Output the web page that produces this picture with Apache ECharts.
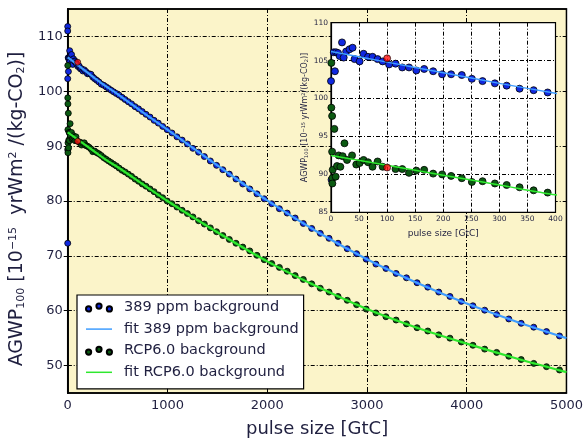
<!DOCTYPE html>
<html>
<head>
<meta charset="utf-8">
<script src="https://cdn.jsdelivr.net/npm/echarts@6/dist/echarts.min.js"></script>
<style>
  html, body { margin: 0; padding: 0; background: #fff; }
  #chart { width: 586px; height: 443px; }
</style>
</head>
<body>
<div id="chart"></div>
<script>
// points below 400 GtC (also shown in the inset)
var bluePulseLow = [0, 0, 0, 1, 0, 7, 5, 9, 12.5, 15.5, 19.6, 22.6, 27, 33, 38.5, 42, 51, 58, 66, 74, 83, 92,
    103.5, 115, 127, 139, 152, 166, 182, 198, 214, 233, 251, 270, 292, 313, 336, 361, 386];
var blueLow = [111.8, 111.0, 72.3, 89.3, 102.3, 103.6, 106.1, 106.1, 106.0, 105.6, 107.4, 105.4, 106.2, 106.5, 106.7, 105.2, 104.9, 105.9, 105.5, 105.5, 105.2, 104.9,
    104.5, 104.6, 104.1, 104.1, 103.7, 103.9, 103.6, 103.2, 103.2, 103.1, 102.6, 102.3, 102.0, 101.7, 101.3, 101.1, 100.8];
var greenPulseLow = [0.6, 0.6, 2, 6, 2, 24, 3, 2.4, 2.4, 8.3, 10.7, 16.7, 13.7, 20.8, 28.6, 37.5, 45, 51, 58, 66, 74, 83, 92,
    115, 127, 139, 152, 166, 182, 198, 214, 233, 251, 270, 292, 313, 336, 361, 386];
var greenLow = [104.7, 98.8, 97.7, 96.0, 93.0, 94.1, 90.6, 89.5, 88.8, 89.7, 91.1, 91.0, 92.5, 92.4, 91.9, 92.5, 91.3, 91.5, 91.9, 91.6, 91.0, 91.7, 91.0,
    90.7, 90.7, 90.2, 90.5, 90.6, 90.1, 90.0, 89.8, 89.5, 89.0, 89.1, 88.8, 88.6, 88.3, 87.9, 87.6];

// points above 400 GtC
var pulseHigh = [410, 435, 460, 487, 515, 545, 575, 607, 640, 675, 710, 747, 785, 825, 866, 908, 952, 997,
    1045, 1095, 1147, 1200, 1255, 1312, 1370, 1430, 1492, 1555, 1620, 1687, 1755, 1825, 1897, 1970,
    2045, 2122, 2200, 2280, 2362, 2446, 2532, 2620, 2710, 2802, 2896, 2992, 3090, 3190, 3292, 3396,
    3502, 3610, 3720, 3832, 3946, 4062, 4180, 4300, 4422, 4546, 4672, 4800, 4930];
var blueHigh = [100.5, 100.2, 99.9, 99.6, 99.3, 98.9, 98.5, 98.1, 97.7, 97.2, 96.8, 96.3, 95.8, 95.3, 94.7, 94.2, 93.6, 93.0,
    92.4, 91.7, 91.1, 90.4, 89.6, 88.9, 88.1, 87.3, 86.5, 85.7, 84.9, 84.0, 83.1, 82.2, 81.3, 80.4,
    79.5, 78.6, 77.8, 76.9, 75.9, 75.0, 74.1, 73.2, 72.3, 71.3, 70.4, 69.4, 68.5, 67.7, 66.8, 66.0,
    65.1, 64.3, 63.4, 62.6, 61.7, 60.9, 60.1, 59.3, 58.5, 57.7, 57.0, 56.2, 55.4];
var greenHigh = [87.3, 87.0, 86.7, 86.4, 86.0, 85.6, 85.3, 84.9, 84.5, 84.0, 83.6, 83.1, 82.7, 82.2, 81.7, 81.1, 80.6, 80.0,
    79.5, 78.9, 78.3, 77.7, 77.1, 76.4, 75.8, 75.1, 74.4, 73.7, 73.0, 72.3, 71.6, 70.9, 70.1, 69.3,
    68.6, 67.9, 67.2, 66.4, 65.7, 64.9, 64.1, 63.4, 62.6, 61.9, 61.1, 60.3, 59.6, 58.9, 58.3, 57.6,
    56.9, 56.3, 55.6, 55.0, 54.3, 53.7, 53.0, 52.4, 51.7, 51.1, 50.4, 49.8, 49.2];

// reference pulse (red markers)
var redPulse = [100, 100];
var redValue = [105.3, 90.9];

// fitted curves
var fitPulse = [0, 100, 200, 300, 400, 500, 750, 1000, 1500, 2000, 2500, 3000, 3500, 4000, 4500, 5000];
var fitBlue = [106.2, 104.8, 103.4, 102.0, 100.7, 99.5, 96.2, 93.0, 86.5, 80.1, 74.4, 69.4, 65.1, 61.3, 58.0, 55.0];
var fitGreen = [92.5, 91.2, 89.9, 88.6, 87.3, 86.2, 83.1, 80.0, 74.3, 69.0, 64.4, 60.3, 56.9, 54.0, 51.3, 48.8];

var mainYTicks = [50, 60, 70, 80, 90, 100, 110];

var legendNames = ['389 ppm background', 'fit 389 ppm background', 'RCP6.0 background', 'fit RCP6.0 background'];

function pairs(xs, ys) {
    return xs.map(function (x, i) { return [x, ys[i]]; });
}

var blueData = pairs(bluePulseLow, blueLow).concat(pairs(pulseHigh, blueHigh));
var greenData = pairs(greenPulseLow, greenLow).concat(pairs(pulseHigh, greenHigh));
var redData = pairs(redPulse, redValue);
var blueFit = pairs(fitPulse, fitBlue);
var greenFit = pairs(fitPulse, fitGreen);

var textColor = '#1f1f3f';
var dashDot = [4, 2, 1, 2];
var dotsIcon = 'path://M0,5.4a2.6,2.6 0 1,0 5.2,0a2.6,2.6 0 1,0 -5.2,0Z' +
    'M10.4,2.6a2.6,2.6 0 1,0 5.2,0a2.6,2.6 0 1,0 -5.2,0Z' +
    'M20.8,5.4a2.6,2.6 0 1,0 5.2,0a2.6,2.6 0 1,0 -5.2,0Z';
var noSymbol = { color: 'transparent', borderColor: 'transparent', borderWidth: 0, opacity: 0 };

function plainNumber(v) {
    return String(v);
}

var chart = echarts.init(document.getElementById('chart'));

var option = {
    backgroundColor: '#fff',
    animation: false,
    textStyle: { fontFamily: 'DejaVu Sans', color: textColor },
    grid: [
        { left: 67.5, right: 17.5, top: 9, bottom: 45, show: true, backgroundColor: '#fbf4c9', borderColor: '#000', borderWidth: 1.5 },
        { left: 331, right: 30.5, top: 22.7, bottom: 230.7, show: true, backgroundColor: '#fff', borderColor: '#000', borderWidth: 1.2, z: 10 }
    ],
    legend: {
        orient: 'vertical',
        left: 77, top: 295,
        padding: [5, 5, 9, 8],
        itemGap: 6.6,
        itemWidth: 26, itemHeight: 8,
        backgroundColor: '#fff',
        borderColor: '#000', borderWidth: 1.2,
        textStyle: { fontSize: 14.5, color: textColor, fontFamily: 'DejaVu Sans', padding: [0, 0, 0, 7] },
        data: [
            { name: legendNames[0], icon: dotsIcon },
            { name: legendNames[1], itemStyle: noSymbol, lineStyle: { width: 1.5 } },
            { name: legendNames[2], icon: dotsIcon },
            { name: legendNames[3], itemStyle: noSymbol, lineStyle: { width: 1.5 } }
        ]
    },
    xAxis: [
        {
            gridIndex: 0, type: 'value', min: 0, max: 5000, interval: 1000,
            name: 'pulse size [GtC]', nameLocation: 'middle', nameGap: 27,
            nameTextStyle: { fontSize: 18, color: textColor },
            axisLine: { show: true, lineStyle: { color: '#000', width: 1.5 } },
            axisTick: { inside: true, length: 4, lineStyle: { color: '#000' } },
            axisLabel: { fontSize: 13, color: textColor, margin: 6, formatter: plainNumber },
            splitLine: { show: true, lineStyle: { color: '#000', type: dashDot, width: 1 } }
        },
        {
            gridIndex: 0, type: 'value', min: 0, max: 5000, interval: 1000, position: 'top',
            axisLine: { show: true, lineStyle: { color: '#000', width: 1.5 } },
            axisTick: { inside: true, length: 4, lineStyle: { color: '#000' } },
            axisLabel: { show: false }, splitLine: { show: false }
        },
        {
            gridIndex: 1, type: 'value', min: 0, max: 400, interval: 50, z: 11,
            name: 'pulse size [GtC]', nameLocation: 'middle', nameGap: 17,
            nameTextStyle: { fontSize: 9, color: textColor },
            axisLine: { show: true, lineStyle: { color: '#000', width: 1.2 } },
            axisTick: { inside: true, length: 3, lineStyle: { color: '#000' } },
            axisLabel: { fontSize: 7.5, color: textColor, margin: 3 },
            splitLine: { show: true, lineStyle: { color: '#000', type: dashDot, width: 1 } }
        }
    ],
    yAxis: [
        {
            gridIndex: 0, type: 'value', min: 45, max: 115,
            name: 'AGWP{sub|100} [10{sup|\u221215}  yrWm{sup|2} /(kg-CO{sub|2})]',
            nameLocation: 'middle', nameGap: 34,
            nameTextStyle: {
                fontSize: 19, color: textColor,
                padding: [0, 16, 0, 0],
                rich: {
                    sub: { fontSize: 11, color: textColor, verticalAlign: 'bottom', fontFamily: 'DejaVu Sans' },
                    sup: { fontSize: 11, color: textColor, verticalAlign: 'top', fontFamily: 'DejaVu Sans' }
                }
            },
            axisLine: { show: true, lineStyle: { color: '#000', width: 1.5 } },
            axisTick: { inside: true, length: 4, customValues: mainYTicks, lineStyle: { color: '#000' } },
            axisLabel: { fontSize: 13, color: textColor, margin: 5, customValues: mainYTicks },
            splitLine: { show: true, lineStyle: { color: '#000', type: dashDot, width: 1 } }
        },
        {
            gridIndex: 0, type: 'value', min: 45, max: 115, position: 'right',
            axisLine: { show: true, lineStyle: { color: '#000', width: 1.5 } },
            axisTick: { inside: true, length: 4, customValues: mainYTicks, lineStyle: { color: '#000' } },
            axisLabel: { show: false }, splitLine: { show: false }
        },
        {
            gridIndex: 1, type: 'value', min: 85, max: 110, interval: 5, z: 11,
            name: 'AGWP{sub|100} [10{sup|\u221215} yrWm{sup|2}/(kg-CO{sub|2})]',
            nameLocation: 'middle', nameGap: 22,
            nameTextStyle: {
                fontSize: 8, color: textColor,
                rich: {
                    sub: { fontSize: 5, color: textColor, verticalAlign: 'bottom', fontFamily: 'DejaVu Sans' },
                    sup: { fontSize: 5, color: textColor, verticalAlign: 'top', fontFamily: 'DejaVu Sans' }
                }
            },
            axisLine: { show: true, lineStyle: { color: '#000', width: 1.2 } },
            axisTick: { inside: true, length: 3, lineStyle: { color: '#000' } },
            axisLabel: { fontSize: 7.5, color: textColor, margin: 3 },
            splitLine: { show: true, lineStyle: { color: '#000', type: dashDot, width: 1 } }
        }
    ],
    series: [
        {
            name: legendNames[0], type: 'scatter', xAxisIndex: 0, yAxisIndex: 0, data: blueData,
            symbolSize: 6, z: 2,
            itemStyle: { color: '#1028e0', borderColor: '#000', borderWidth: 0.8, opacity: 1 }
        },
        {
            name: legendNames[1], type: 'line', xAxisIndex: 0, yAxisIndex: 0, data: blueFit,
            symbol: 'none', smooth: 0.3, z: 3,
            lineStyle: { color: '#3f9dff', width: 2.2 }, itemStyle: { color: '#3f9dff' }
        },
        {
            name: legendNames[2], type: 'scatter', xAxisIndex: 0, yAxisIndex: 0, data: greenData,
            symbolSize: 6, z: 2,
            itemStyle: { color: '#0b5a12', borderColor: '#000', borderWidth: 0.8, opacity: 1 }
        },
        {
            name: legendNames[3], type: 'line', xAxisIndex: 0, yAxisIndex: 0, data: greenFit,
            symbol: 'none', smooth: 0.3, z: 3,
            lineStyle: { color: '#2ee82e', width: 2.2 }, itemStyle: { color: '#2ee82e' }
        },
        {
            name: 'reference', type: 'scatter', xAxisIndex: 0, yAxisIndex: 0, data: redData,
            symbolSize: 6, z: 4,
            itemStyle: { color: '#ff1010', borderColor: '#000', borderWidth: 0.8 }
        },
        // inset
        {
            name: 'inset blue', type: 'scatter', xAxisIndex: 2, yAxisIndex: 2, data: blueData,
            symbolSize: 7, z: 12, clip: true,
            itemStyle: { color: '#1028e0', borderColor: '#000', borderWidth: 0.8, opacity: 1 }
        },
        {
            name: 'inset green', type: 'scatter', xAxisIndex: 2, yAxisIndex: 2, data: greenData,
            symbolSize: 7, z: 12, clip: true,
            itemStyle: { color: '#0b5a12', borderColor: '#000', borderWidth: 0.8, opacity: 1 }
        },
        {
            name: 'inset fit blue', type: 'line', xAxisIndex: 2, yAxisIndex: 2, data: blueFit,
            symbol: 'none', smooth: 0.3, z: 13, clip: true,
            lineStyle: { color: '#3f9dff', width: 1.5 }
        },
        {
            name: 'inset fit green', type: 'line', xAxisIndex: 2, yAxisIndex: 2, data: greenFit,
            symbol: 'none', smooth: 0.3, z: 13, clip: true,
            lineStyle: { color: '#2ee82e', width: 1.5 }
        },
        {
            name: 'inset reference', type: 'scatter', xAxisIndex: 2, yAxisIndex: 2, data: redData,
            symbolSize: 7, z: 14,
            itemStyle: { color: '#ff1010', borderColor: '#000', borderWidth: 0.8 }
        }
    ]
};

chart.setOption(option);
</script>
</body>
</html>
